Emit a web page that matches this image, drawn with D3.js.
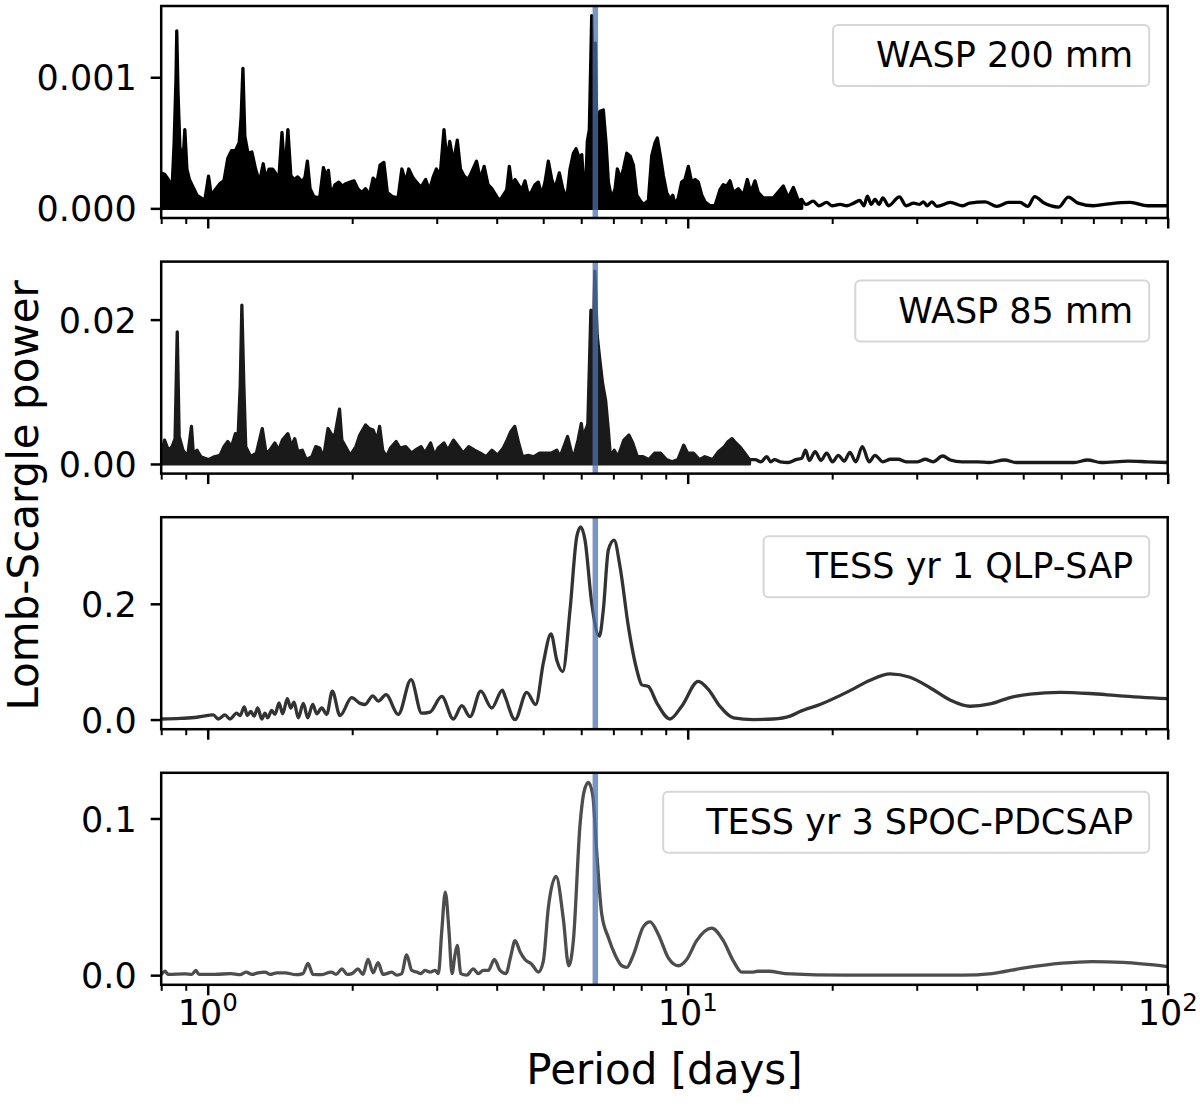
<!DOCTYPE html>
<html>
<head>
<meta charset="utf-8">
<script src="https://cdn.jsdelivr.net/npm/d3@7"></script>
<style>
  body { margin: 0; background: #fff; }
  svg { display: block; }
  text { font-family: "DejaVu Sans", "Liberation Sans", sans-serif; }
</style>
</head>
<body>
<svg id="chart" width="1200" height="1112"></svg>
<script>
// ---------------- DATA ----------------
const periodDomain = [0.8, 100];
const xMajorTicks = [1, 10, 100];
const xMinorTicks = [0.8, 0.9, 2, 3, 4, 5, 6, 7, 8, 9, 20, 30, 40, 50, 60, 70, 80, 90];
const markedPeriod = 6.42;
const panelLabels = ["WASP 200 mm", "WASP 85 mm", "TESS yr 1 QLP-SAP", "TESS yr 3 SPOC-PDCSAP"];
const yTickValues = [[0, 0.001], [0, 0.02], [0, 0.2], [0, 0.1]];
const yTickFormats = [".3f", ".2f", ".1f", ".1f"];
const xLabel = "Period [days]";
const yLabel = "Lomb-Scargle power";

// WASP 200 mm: dense (unresolved) part given as upper envelope, then resolved tail
const wasp200DensePeriod = [0.800,0.813,0.828,0.843,0.851,0.859,0.862,0.867,0.875,0.888,
 0.896,0.905,0.916,0.933,0.950,0.968,0.986,1.004,1.017,1.036,
 1.061,1.081,1.101,1.121,1.142,1.163,1.174,1.184,1.195,1.213,
 1.236,1.258,1.282,1.305,1.323,1.342,1.365,1.384,1.405,1.428,
 1.447,1.469,1.490,1.512,1.540,1.574,1.595,1.613,1.634,1.663,
 1.711,1.742,1.765,1.784,1.807,1.841,1.875,1.909,1.944,1.981,
 2.017,2.054,2.093,2.132,2.171,2.211,2.253,2.286,2.328,2.367,
 2.424,2.492,2.538,2.585,2.623,2.671,2.722,2.782,2.844,2.897,
 2.950,2.995,3.050,3.106,3.152,3.193,3.252,3.311,3.361,3.416,
 3.481,3.531,3.631,3.698,3.766,3.837,3.908,4.016,4.064,4.129,
 4.197,4.250,4.299,4.368,4.438,4.511,4.581,4.655,4.732,4.807,
 4.884,4.964,5.043,5.124,5.209,5.291,5.402,5.491,5.597,5.687,
 5.778,5.853,5.947,6.016,6.110,6.178,6.238,6.310,6.358,6.420,
 6.482,6.567,6.672,6.759,6.834,6.947,7.057,7.136,7.253,7.344,
 7.465,7.585,7.706,7.833,7.958,8.085,8.281,8.414,8.549,8.644,
 8.787,8.897,9.042,9.186,9.307,9.409,9.559,9.716,9.872,10.03,
 10.19,10.36,10.52,10.70,10.86,11.13,11.40,11.67,11.86,12.06,
 12.25,12.45,12.75,13.06,13.31,13.53,13.81,14.03,14.37,14.72,
 15.08,15.82,16.20,16.60,17.00,17.28];
const wasp200DensePower = [0.00027,0.00026,0.00022,0.00016,0.00049,0.00100,0.001354,0.00090,0.00047,0.00035,
 0.00060,0.00030,0.00022,0.00016,0.00010,0.00008,0.00006,0.000245,0.00010,0.00014,
 0.00019,0.00021,0.00038,0.00044,0.00044,0.00050,0.00070,0.001068,0.00055,0.00042,
 0.00043,0.00030,0.00020,0.00034,0.00022,0.00030,0.00030,0.00027,0.00020,0.00058,
 0.00025,0.00060,0.00025,0.00022,0.00024,0.00020,0.00024,0.00036,0.00015,0.00009,
 0.00008,0.00031,0.00025,0.00029,0.00010,0.00018,0.00020,0.00017,0.00019,0.00020,
 0.00021,0.00015,0.00012,0.00015,0.00010,0.00023,0.00020,0.00033,0.00035,0.00012,
 0.00009,0.00008,0.00030,0.00020,0.00030,0.00024,0.00020,0.00016,0.00022,0.00014,
 0.00024,0.00030,0.00025,0.00060,0.00035,0.00051,0.00035,0.00052,0.00030,0.00025,
 0.00022,0.00026,0.00036,0.00022,0.00032,0.00018,0.00015,0.00008,0.00006,0.00010,
 0.00014,0.00032,0.00018,0.00022,0.00018,0.00014,0.00021,0.00010,0.00013,0.00018,
 0.00020,0.00010,0.00020,0.00036,0.00022,0.00015,0.00027,0.00015,0.00007,0.00030,
 0.00042,0.000455,0.00038,0.00041,0.00002,0.00051,0.00060,0.00147,0.00100,0.00126,
 0.00040,0.00074,0.00075,0.00050,0.00020,0.00007,0.00015,0.00030,0.00022,0.00030,
 0.00042,0.00040,0.00033,0.00010,0.00006,0.00003,0.00006,0.00040,0.00050,0.000537,
 0.00038,0.00025,0.00012,0.00007,0.00010,0.00003,0.00008,0.00020,0.00022,0.00032,
 0.00020,0.00022,0.00020,0.00010,0.00005,0.00002,0.00002,0.00014,0.00018,0.00017,
 0.00021,0.00012,0.00015,0.00010,0.00022,0.00012,0.00021,0.00012,0.00008,0.00008,
 0.00008,0.00017,0.00008,0.00016,0.00006,0.000068];
const wasp200TailPeriod = [17.28,17.64,18.26,18.77,19.48,19.98,20.77,21.47,22.18,22.81,
 23.30,23.67,24.12,24.56,25.03,25.50,26.21,27.61,28.50,29.57,
 30.40,30.97,31.55,32.27,33.05,35.26,37.28,38.68,41.68,44.06,
 46.57,49.25,51.09,52.84,55.04,59.29,62.08,65.04,70.02,75.43,
 83.55,90.82,100];
const wasp200TailPower = [0.000068,0.00003,0.000055,0.00002,0.000045,0.00002,0.00003,0.00002,0.00004,0.00006,
 0.00002,0.000093,0.00003,0.00007,0.00003,0.00008,0.00002,0.000088,0.00002,0.00004,
 0.00003,0.00005,0.00002,0.00005,0.000015,0.000045,0.00002,0.00004,0.00005,0.000015,
 0.000045,0.000045,0.000015,0.00009,0.000045,0.00001,0.000085,0.00004,0.00002,0.000035,
 0.000045,0.00002,0.00002];

// WASP 85 mm
const wasp85DensePeriod = [0.800,0.805,0.813,0.828,0.843,0.855,0.864,0.872,0.888,0.908,
 0.925,0.933,0.950,0.968,0.986,1.004,1.032,1.061,1.081,1.101,
 1.121,1.142,1.156,1.169,1.178,1.189,1.200,1.229,1.263,1.299,
 1.323,1.347,1.380,1.405,1.431,1.469,1.496,1.518,1.540,1.574,
 1.604,1.648,1.679,1.711,1.742,1.781,1.814,1.841,1.882,1.903,
 1.944,1.981,2.036,2.074,2.132,2.171,2.211,2.253,2.281,2.315,
 2.358,2.402,2.469,2.515,2.585,2.657,2.706,2.782,2.834,2.913,
 2.968,3.022,3.106,3.164,3.252,3.331,3.405,3.499,3.597,3.698,
 3.801,3.908,4.016,4.129,4.205,4.282,4.361,4.444,4.525,4.651,
 4.782,4.914,5.052,5.193,5.337,5.420,5.522,5.620,5.730,5.800,
 5.910,6.003,6.081,6.126,6.172,6.194,6.285,6.346,6.405,6.477,
 6.561,6.646,6.745,6.834,6.901,7.028,7.160,7.362,7.541,7.683,
 7.852,8.074,8.302,8.537,8.777,9.024,9.279,9.541,9.810,9.995,
 10.28,10.57,10.86,11.27,11.59,11.92,12.14,12.37,12.60,12.83,
 13.08,13.45];
const wasp85DensePower = [0.0019,0.0019,0.0033,0.0019,0.0024,0.0035,0.0183,0.0038,0.0019,0.0010,
 0.0052,0.0015,0.0019,0.0010,0.0008,0.0006,0.0010,0.0012,0.0024,0.0031,
 0.0024,0.0042,0.0033,0.0110,0.0220,0.0110,0.0024,0.0010,0.0015,0.0049,
 0.0015,0.0019,0.0029,0.0019,0.0033,0.0042,0.0024,0.0035,0.0017,0.0019,
 0.0006,0.0010,0.0024,0.0022,0.0008,0.0049,0.0040,0.0040,0.0076,0.0033,
 0.0022,0.0012,0.0024,0.0040,0.0054,0.0049,0.0047,0.0033,0.0052,0.0019,
 0.0010,0.0022,0.0031,0.0022,0.0024,0.0015,0.0019,0.0024,0.0015,0.0029,
 0.0012,0.0022,0.0029,0.0019,0.0033,0.0024,0.0015,0.0024,0.0019,0.0015,
 0.0010,0.0019,0.0012,0.0022,0.0033,0.0045,0.0052,0.0029,0.0010,0.0012,
 0.0010,0.0015,0.0015,0.0015,0.0019,0.0010,0.0024,0.0038,0.0015,0.0012,
 0.0033,0.0056,0.0024,0.0047,0.0052,0.0056,0.0213,0.0144,0.0267,0.0178,
 0.0144,0.0112,0.0088,0.0047,0.0010,0.0019,0.0010,0.0033,0.0040,0.0029,
 0.0010,0.0010,0.0006,0.0015,0.0015,0.0006,0.0003,0.0006,0.0026,0.0015,
 0.0015,0.0006,0.0010,0.0006,0.0017,0.0024,0.0031,0.0035,0.0029,0.0024,
 0.0017,0.0006];
const wasp85TailPeriod = [13.45,13.82,14.21,14.61,14.89,15.16,15.59,16.19,16.80,17.28,
 17.60,17.92,18.43,18.95,19.48,20.03,20.60,21.18,21.78,22.39,
 23.11,23.88,24.56,25.50,26.46,27.45,28.50,30.13,31.26,32.43,
 33.98,35.26,37.28,40.17,42.46,45.71,48.34,56.04,63.83,68.10,
 72.70,82.75,90.82,100];
const wasp85TailPower = [0.0006,0.0006,0.0003,0.0010,0.0003,0.0006,0.0003,0.0002,0.0006,0.0008,
 0.0019,0.0005,0.0017,0.0005,0.0015,0.0003,0.0012,0.0004,0.0016,0.0003,
 0.0024,0.0003,0.0012,0.0003,0.00065,0.00065,0.0003,0.0003,0.00065,0.0003,
 0.0011,0.00055,0.0003,0.0003,0.0002,0.00055,0.0002,0.0002,0.0002,0.00055,
 0.0002,0.0004,0.0003,0.0002];

// TESS yr 1 QLP-SAP
const tessYr1Period = [0.800,0.876,0.949,0.979,1.027,1.052,1.086,1.113,1.149,1.168,
 1.192,1.209,1.229,1.249,1.271,1.296,1.316,1.334,1.359,1.381,
 1.408,1.433,1.465,1.489,1.513,1.544,1.582,1.616,1.655,1.687,
 1.728,1.770,1.818,1.886,1.995,2.077,2.127,2.207,2.267,2.352,
 2.495,2.652,2.791,2.905,3.073,3.249,3.383,3.520,3.705,3.906,
 4.110,4.163,4.368,4.620,4.823,5.003,5.191,5.335,5.491,5.687,
 5.873,5.986,6.110,6.310,6.545,6.672,6.834,7.024,7.228,7.522,
 7.833,8.023,8.281,8.621,9.186,9.716,10.52,11.04,11.67,12.45,
 13.70,15.08,16.34,17.14,18.86,21.79,23.98,26.40,29.05,31.98,
 35.20,38.74,42.65,46.95,51.66,59.66,68.89,79.55,100];
const tessYr1Power = [0.001,0.002,0.004,0.006,0.008,0.001,0.008,0.001,0.011,0.007,
 0.022,0.007,0.014,0.006,0.020,0.001,0.011,0.003,0.016,0.009,
 0.029,0.010,0.036,0.020,0.030,0.003,0.028,0.003,0.026,0.010,
 0.020,0.009,0.049,0.007,0.038,0.028,0.026,0.041,0.032,0.043,
 0.009,0.069,0.011,0.013,0.040,0.001,0.024,0.005,0.049,0.020,
 0.051,0.040,0.000,0.047,0.026,0.098,0.148,0.103,0.083,0.190,
 0.316,0.333,0.310,0.201,0.144,0.190,0.293,0.310,0.264,0.161,
 0.086,0.060,0.057,0.029,0.001,0.023,0.066,0.052,0.023,0.003,
 0.000,0.001,0.006,0.014,0.026,0.050,0.068,0.079,0.073,0.055,
 0.034,0.023,0.027,0.038,0.044,0.047,0.045,0.041,0.036];

// TESS yr 3 SPOC-PDCSAP
const tessYr3Period = [0.800,0.815,0.827,0.897,0.927,0.945,0.959,1.036,1.118,1.168,
 1.202,1.237,1.273,1.316,1.348,1.394,1.449,1.528,1.579,1.618,
 1.657,1.730,1.807,1.851,1.905,1.951,1.998,2.056,2.106,2.158,
 2.211,2.264,2.318,2.360,2.417,2.476,2.536,2.597,2.661,2.726,
 2.778,2.836,2.905,2.976,3.024,3.073,3.126,3.182,3.228,3.275,
 3.311,3.366,3.464,3.575,3.662,3.751,3.842,3.955,4.064,4.182,
 4.278,4.368,4.474,4.581,4.732,4.884,5.003,5.124,5.317,5.506,
 5.651,5.778,5.966,6.081,6.207,6.340,6.462,6.620,6.834,7.057,
 7.289,7.465,7.706,8.085,8.348,8.686,9.112,9.559,9.952,10.44,
 11.22,11.86,12.45,12.96,13.70,14.01,14.77,15.95,21.37,37.28,
 43.05,49.94,60.24,69.56,80.71,100];
const tessYr3Power = [0.0005,0.0025,0.0005,0.0008,0.0005,0.003,0.0005,0.0005,0.001,0.0003,
 0.002,0.0005,0.0015,0.002,0.0005,0.0015,0.0015,0.0003,0.001,0.0075,
 0.0005,0.0003,0.002,0.0005,0.004,0.0005,0.001,0.004,0.0005,0.010,
 0.0015,0.008,0.0005,0.001,0.002,0.0,0.001,0.013,0.003,0.002,
 0.001,0.003,0.002,0.003,0.001,0.028,0.053,0.028,0.001,0.013,
 0.019,0.001,0.0,0.004,0.001,0.003,0.003,0.010,0.003,0.001,
 0.012,0.022,0.015,0.010,0.007,0.002,0.009,0.043,0.063,0.036,
 0.006,0.022,0.096,0.117,0.123,0.115,0.079,0.039,0.024,0.013,
 0.006,0.005,0.013,0.031,0.034,0.026,0.011,0.006,0.010,0.022,
 0.030,0.022,0.009,0.002,0.002,0.0025,0.0025,0.001,0.0,0.0,
 0.001,0.0045,0.0077,0.0087,0.0081,0.0055];

// ---------------- LAYOUT / STYLE ----------------
const plotLeft = 161.2, plotRight = 1167.7;
const panelTops = [6, 261.6, 517.2, 772.8];
const panelHeight = 212;
const lineColors = ["#000000", "#1a1a1a", "#333333", "#4d4d4d"];
const fontTick = 35, fontLabel = 42;
const lineWidth = 3.3;

const panels = [
  { dense: [wasp200DensePeriod, wasp200DensePower], tail: [wasp200TailPeriod, wasp200TailPower] },
  { dense: [wasp85DensePeriod, wasp85DensePower], tail: [wasp85TailPeriod, wasp85TailPower] },
  { series: [tessYr1Period, tessYr1Power] },
  { series: [tessYr3Period, tessYr3Power] }
];

const svg = d3.select("#chart");
const x = d3.scaleLog().domain(periodDomain).range([plotLeft, plotRight]);

panels.forEach((p, i) => {
  const top = panelTops[i], bottom = top + panelHeight;
  const color = lineColors[i];
  const allVals = p.dense ? p.dense[1].concat(p.tail[1]) : p.series[1];
  const M = d3.max(allVals);
  const y = d3.scaleLinear().domain([-0.05 * M, 1.05 * M]).range([bottom, top]);

  const g = svg.append("g");
  const clipId = "clip" + i;
  svg.append("clipPath").attr("id", clipId).append("rect")
    .attr("x", plotLeft).attr("y", top)
    .attr("width", plotRight - plotLeft).attr("height", panelHeight);
  const plot = g.append("g").attr("clip-path", `url(#${clipId})`);

  if (p.dense) {
    const dd = d3.zip(p.dense[0], p.dense[1]);
    const area = d3.area().x(d => x(d[0])).y0(y(0)).y1(d => y(d[1]));
    plot.append("path").datum(dd).attr("d", area)
      .attr("fill", color).attr("stroke", color)
      .attr("stroke-width", lineWidth).attr("stroke-linejoin", "round");
    const td = d3.zip(p.tail[0], p.tail[1]);
    plot.append("path").datum(td)
      .attr("d", d3.line().x(d => x(d[0])).y(d => y(d[1])).curve(d3.curveMonotoneX))
      .attr("fill", "none").attr("stroke", color)
      .attr("stroke-width", lineWidth).attr("stroke-linejoin", "round");
  } else {
    const sd = d3.zip(p.series[0], p.series[1]);
    plot.append("path").datum(sd)
      .attr("d", d3.line().x(d => x(d[0])).y(d => y(d[1])).curve(d3.curveMonotoneX))
      .attr("fill", "none").attr("stroke", color)
      .attr("stroke-width", lineWidth).attr("stroke-linejoin", "round");
  }

  // marked period
  plot.append("line")
    .attr("x1", x(markedPeriod)).attr("x2", x(markedPeriod))
    .attr("y1", top).attr("y2", bottom)
    .attr("stroke", "#4c72b0").attr("stroke-opacity", 0.75).attr("stroke-width", 5.5);

  // legend
  const leg = g.append("g");
  const boxRight = plotRight - 18.5, boxTop = top + 19, boxH = 61;
  const lt = leg.append("text")
    .attr("x", boxRight - 16).attr("y", boxTop + 42)
    .attr("text-anchor", "end").attr("font-size", fontTick).attr("fill", "#000")
    .text(panelLabels[i]);
  const tw = lt.node().getComputedTextLength();
  leg.insert("rect", "text")
    .attr("x", boxRight - tw - 59).attr("y", boxTop)
    .attr("width", tw + 59).attr("height", boxH)
    .attr("rx", 5).attr("ry", 5)
    .attr("fill", "#fff").attr("fill-opacity", 0.8)
    .attr("stroke", "#cccccc").attr("stroke-opacity", 0.8).attr("stroke-width", 2);

  // spines
  g.append("rect")
    .attr("x", plotLeft).attr("y", top)
    .attr("width", plotRight - plotLeft).attr("height", panelHeight)
    .attr("fill", "none").attr("stroke", "#000").attr("stroke-width", 2.5);

  // y axis
  const ya = g.append("g").attr("transform", `translate(${plotLeft},0)`)
    .call(d3.axisLeft(y).tickValues(yTickValues[i]).tickFormat(d3.format(yTickFormats[i]))
      .tickSize(10.5).tickPadding(14));
  ya.attr("font-size", fontTick).attr("font-family", "DejaVu Sans");
  ya.select(".domain").remove();
  ya.selectAll(".tick line").attr("stroke", "#000").attr("stroke-width", 2.5);
  ya.selectAll(".tick text").attr("fill", "#000").attr("dy", "0.36em");

  // x axis minor ticks
  const xMin = g.append("g").attr("transform", `translate(0,${bottom})`)
    .call(d3.axisBottom(x).tickValues(xMinorTicks).tickSize(6).tickFormat(""));
  xMin.select(".domain").remove();
  xMin.selectAll(".tick line").attr("stroke", "#000").attr("stroke-width", 2);
  // x axis major ticks
  const xMaj = g.append("g").attr("transform", `translate(0,${bottom})`)
    .call(d3.axisBottom(x).tickValues(xMajorTicks).tickSize(10.5).tickFormat(""));
  xMaj.select(".domain").remove();
  xMaj.selectAll(".tick line").attr("stroke", "#000").attr("stroke-width", 2.5);

  if (i === panels.length - 1) {
    xMajorTicks.forEach(v => {
      const t = g.append("text")
        .attr("x", x(v)).attr("y", bottom + 40)
        .attr("text-anchor", "middle").attr("font-size", fontTick).attr("fill", "#000");
      t.append("tspan").text("10");
      t.append("tspan").attr("font-size", 24.5).attr("dy", -14)
        .text(String(Math.round(Math.log10(v))));
    });
  }
});

// axis labels
svg.append("text")
  .attr("x", (plotLeft + plotRight) / 2).attr("y", 1084)
  .attr("text-anchor", "middle").attr("font-size", fontLabel).attr("fill", "#000")
  .text(xLabel);
svg.append("text")
  .attr("transform", `translate(38,${(panelTops[0] + panelTops[3] + panelHeight) / 2}) rotate(-90)`)
  .attr("text-anchor", "middle").attr("font-size", fontLabel).attr("fill", "#000")
  .text(yLabel);
</script>
</body>
</html>
